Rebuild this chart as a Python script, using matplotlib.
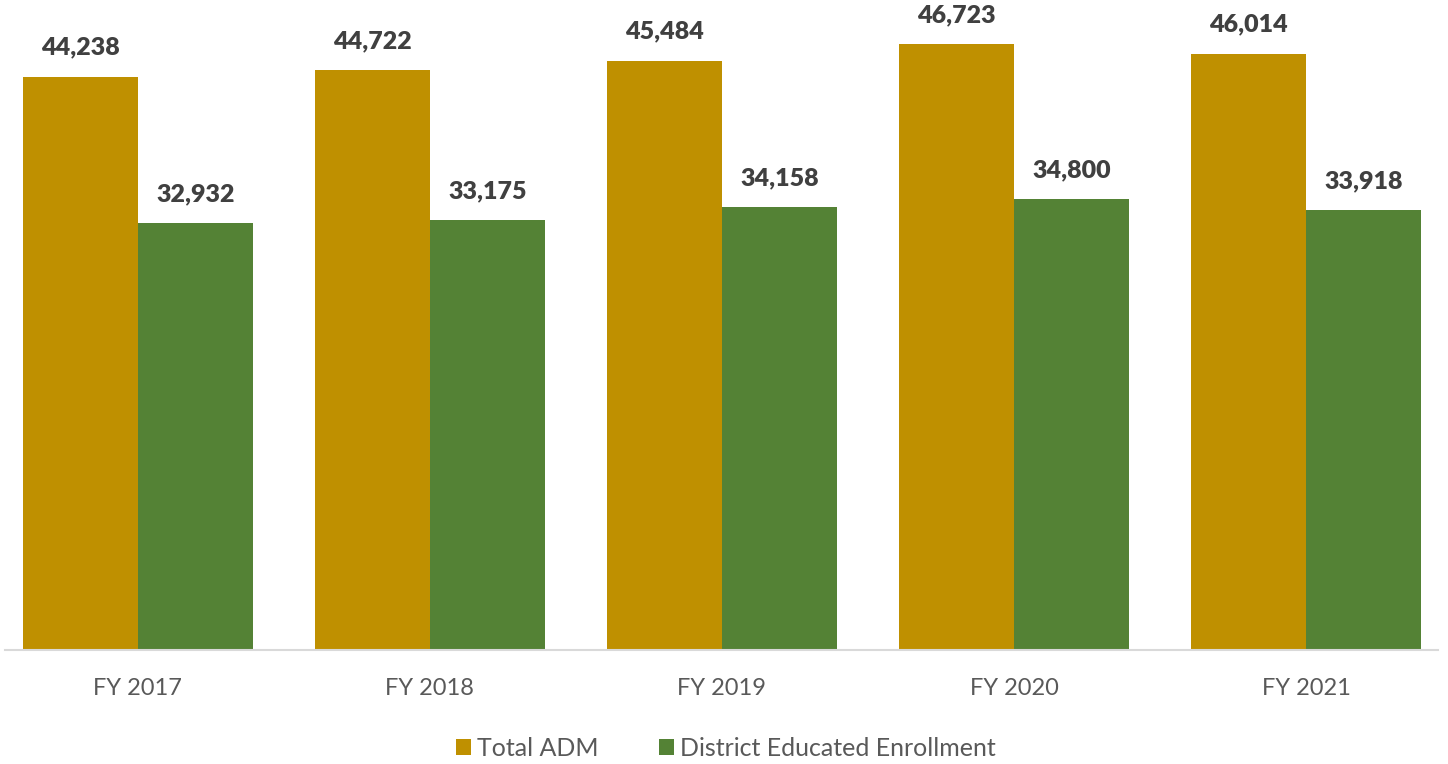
import matplotlib
matplotlib.use("Agg")
import matplotlib.pyplot as plt
import numpy as np

categories = ["FY 2017", "FY 2018", "FY 2019", "FY 2020", "FY 2021"]
total_adm = [44238, 44722, 45484, 46723, 46014]
district_enroll = [32932, 33175, 34158, 34800, 33918]
series_names = ["Total ADM", "District Educated Enrollment"]
colors = ["#BF9000", "#548235"]

plt.rcParams['font.family'] = ['Lato', 'DejaVu Sans']

fig = plt.figure(figsize=(14.48, 7.64), dpi=100)
ax = fig.add_axes([5/1448, 1 - 650/764, (1438-5)/1448, (650-2)/764])

x = np.arange(len(categories))
w = 115/292
b1 = ax.bar(x - w/2, total_adm, w, color=colors[0], label=series_names[0])
b2 = ax.bar(x + w/2, district_enroll, w, color=colors[1], label=series_names[1])

for bars, vals in ((b1, total_adm), (b2, district_enroll)):
    for r, v in zip(bars, vals):
        ax.annotate(f"{v:,}", (r.get_x() + r.get_width()/2, v), xytext=(0, 13),
                    textcoords="offset points", ha="center", va="bottom",
                    fontsize=18, fontweight="heavy", color="#404040")

ax.set_xlim(-0.455, 4.452)
ax.set_ylim(0, 50000)
ax.set_xticks(x)
ax.set_xticklabels(categories, fontsize=17, color="#595959")
ax.tick_params(axis="x", length=0, pad=20)
ax.set_yticks([])
for s in ("top", "right", "left"):
    ax.spines[s].set_visible(False)
ax.spines["bottom"].set_color("#D9D9D9")
ax.spines["bottom"].set_linewidth(1.5)

fig.legend(handles=[b1, b2], labels=series_names, loc="center", bbox_to_anchor=(726/1448, 1 - 748/764),
           ncol=2, frameon=False, fontsize=18, handlelength=0.6, handleheight=0.6,
           handletextpad=0.25, columnspacing=2.4, labelcolor="#595959")

fig.savefig("out.png", dpi=100)
